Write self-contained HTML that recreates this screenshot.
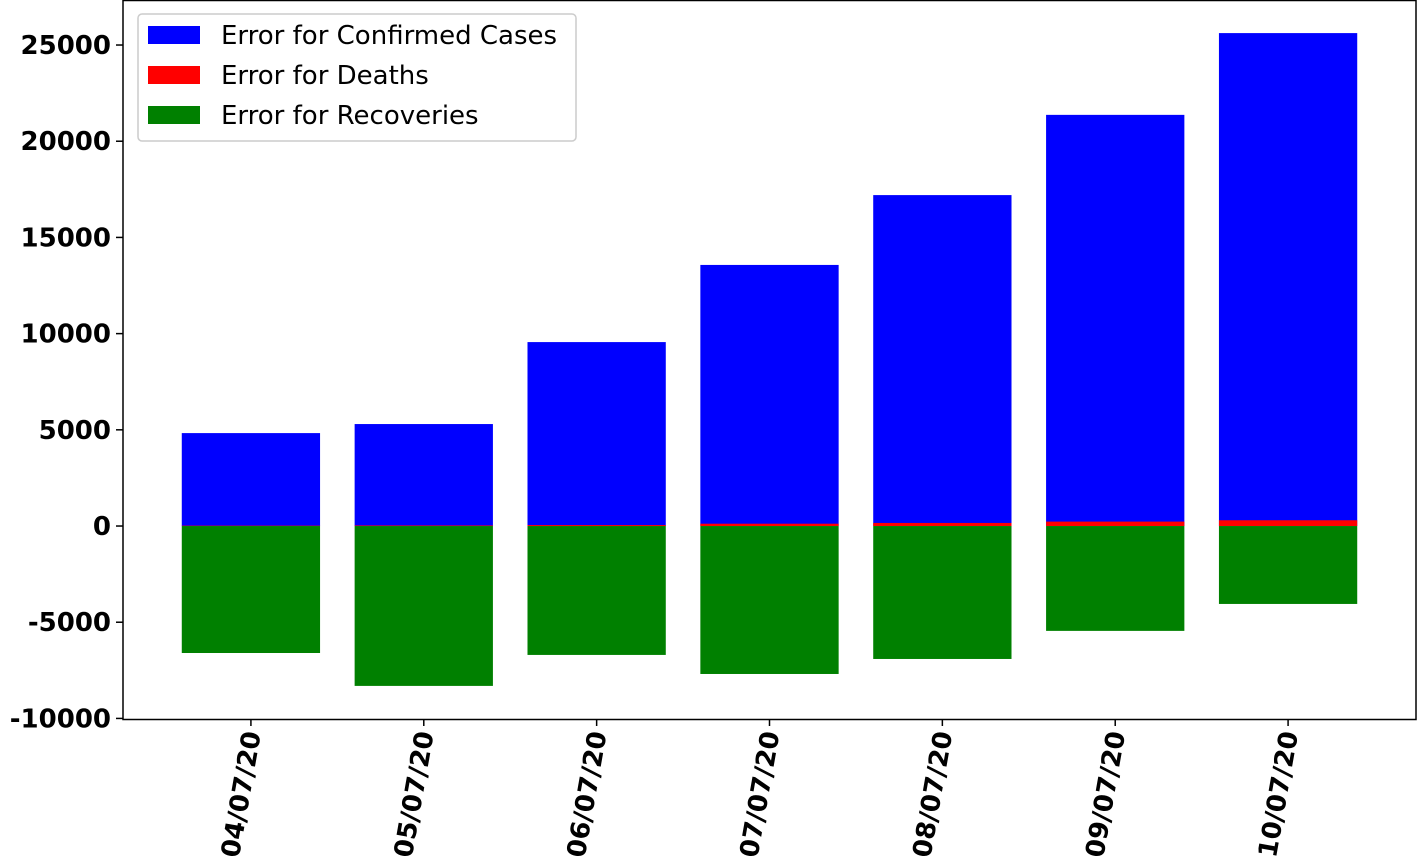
<!DOCTYPE html>
<html><head><meta charset="utf-8"><style>
body{margin:0;background:#fff;}
svg{display:block;font-family:"DejaVu Sans","Liberation Sans",sans-serif;}
</style></head><body>
<svg id="chart" width="1418" height="865"></svg>
<script>
const categories=["04/07/20","05/07/20","06/07/20","07/07/20","08/07/20","09/07/20","10/07/20"];
const confirmed=[4830,5300,9560,13570,17200,21370,25620];
const deaths=[20,30,50,120,160,230,300];
const recoveries=[-6600,-8310,-6700,-7690,-6910,-5450,-4050];
const yTicks=[-10000,-5000,0,5000,10000,15000,20000,25000];
const NS="http://www.w3.org/2000/svg";
const svg=document.getElementById('chart');
const L=123,R=1416,T=0,B=719;
const yMin=-10030,yMax=27340,xMin=-0.74,xMax=6.74;
const y=v=>B-(v-yMin)/(yMax-yMin)*(B-T);
const x=i=>L+(i-xMin)/(xMax-xMin)*(R-L);
const bw=0.8*(R-L)/(xMax-xMin);
function el(t,a){const e=document.createElementNS(NS,t);for(const k in a)e.setAttribute(k,a[k]);svg.appendChild(e);return e;}
function bar(i,v,c,name){const y0=y(0),y1=y(v);const r=el('rect',{x:x(i)-bw/2,y:Math.min(y0,y1),width:bw,height:Math.abs(y1-y0),fill:c});

}
categories.forEach((c,i)=>{bar(i,confirmed[i],'#0000ff','bar-confirmed');bar(i,deaths[i],'#ff0000','bar-deaths');bar(i,recoveries[i],'#008000','bar-recoveries');});
const ax=el('rect',{x:L,y:T+0.5,width:R-L,height:B-T,fill:'none',stroke:'#000','stroke-width':1.5});


yTicks.forEach(v=>{el('line',{x1:L-7,x2:L,y1:y(v),y2:y(v),stroke:'#000','stroke-width':1.5});
const t=el('text',{x:L-12,y:y(v)+9,'text-anchor':'end','font-size':26,'font-weight':'bold'});t.textContent=v;

});
categories.forEach((c,i)=>{const cx=x(i);el('line',{x1:cx,x2:cx,y1:B,y2:B+7,stroke:'#000','stroke-width':1.5});
const t=el('text',{x:0,y:0,'text-anchor':'end','font-size':26,'font-weight':'bold',transform:`translate(${cx+10},${B+14}) rotate(-80)`});t.textContent=c;

});
const lg=el('rect',{x:138,y:14,width:438,height:127,rx:4,fill:'#fff','fill-opacity':0.8,stroke:'#ccc','stroke-width':1.5});


[['Error for Confirmed Cases','#0000ff'],['Error for Deaths','#ff0000'],['Error for Recoveries','#008000']].forEach((d,k)=>{
const yy=35+k*40;el('rect',{x:148,y:yy-9,width:52,height:18,fill:d[1]});
const t=el('text',{x:221,y:yy+9,'font-size':26});t.textContent=d[0];

});
</script>
</body></html>
